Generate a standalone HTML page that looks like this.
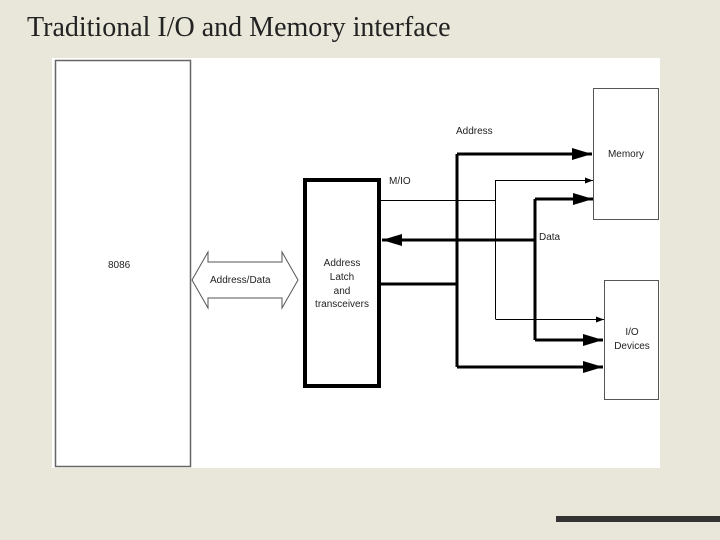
<!DOCTYPE html>
<html><head><style>
body{margin:0;width:720px;height:540px;background:#e9e7da;position:relative;overflow:hidden}
.t{position:absolute;left:27px;top:12px;font:28px "Liberation Serif",serif;color:#222}
svg{position:absolute;left:0;top:0}
text{font-family:"Liberation Sans",sans-serif;font-size:10px;fill:#222}
</style></head><body>
<div class="t">Traditional I/O and Memory interface</div>
<svg width="720" height="540">
<defs>
<marker id="a" markerWidth="8" markerHeight="6" refX="8" refY="3" orient="auto" markerUnits="userSpaceOnUse" viewBox="0 0 8 6"><path d="M0,0L8,3L0,6z" fill="#000"/></marker>
<marker id="b" markerWidth="20" markerHeight="12" refX="20" refY="6" orient="auto" markerUnits="userSpaceOnUse" viewBox="0 0 20 12"><path d="M0,0L20,6L0,12z" fill="#000"/></marker>
</defs>
<rect x="52" y="58" width="608" height="410" fill="#fff"/>
<rect x="55.5" y="60.5" width="135" height="406" fill="none" stroke="#666" stroke-width="1.5"/>
<text x="108" y="268">8086</text>
<path d="M192,280 L208,252 V262 H282 V252 L298,280 L282,308 V298 H208 V308 Z" fill="#fff" stroke="#555"/>
<text x="210" y="283">Address/Data</text>
<rect x="305" y="180" width="74" height="206" fill="none" stroke="#000" stroke-width="4"/>
<text x="342" y="266" text-anchor="middle">Address</text>
<text x="342" y="280" text-anchor="middle">Latch</text>
<text x="342" y="294" text-anchor="middle">and</text>
<text x="342" y="307" text-anchor="middle">transceivers</text>
<rect x="593.5" y="88.5" width="65" height="131" fill="none" stroke="#555"/>
<text x="626" y="157" text-anchor="middle">Memory</text>
<rect x="604.5" y="280.5" width="54" height="119" fill="none" stroke="#555"/>
<text x="632" y="335" text-anchor="middle">I/O</text>
<text x="632" y="349" text-anchor="middle">Devices</text>
<text x="456" y="134">Address</text>
<text x="389" y="184">M/IO</text>
<text x="539" y="240">Data</text>
<g fill="none" stroke="#000">
<path d="M380,284 H457 M457,367 V154" stroke-width="3"/>
<path d="M457,154 H592" stroke-width="3" marker-end="url(#b)"/>
<path d="M457,367 H603" stroke-width="3" marker-end="url(#b)"/>
<path d="M380,200.5 H495.5 M495.5,180 V319" stroke-width="1"/>
<path d="M495.5,180.5 H593" stroke-width="1" marker-end="url(#a)"/>
<path d="M495.5,319.5 H604" stroke-width="1" marker-end="url(#a)"/>
<path d="M535,199 V340" stroke-width="3"/>
<path d="M535,199 H593" stroke-width="3" marker-end="url(#b)"/>
<path d="M535,340 H603" stroke-width="3" marker-end="url(#b)"/>
<path d="M535,240 H382" stroke-width="3" marker-end="url(#b)"/>
</g>
<rect x="556" y="516" width="164" height="6" fill="#333"/>
</svg>
</body></html>
